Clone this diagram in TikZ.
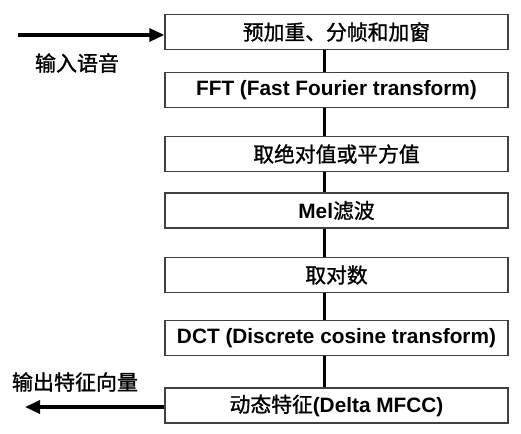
\documentclass[tikz,border=0pt]{standalone}
\usepackage{fontspec}
\setmainfont{Liberation Sans}
\newfontfamily\cjk{Noto Sans CJK SC}[BoldFont={Noto Sans CJK SC},BoldFeatures={FakeBold=1.2}]
\usetikzlibrary{arrows.meta}
\begin{document}
\begin{tikzpicture}[x=1pt,y=-1pt,
  stage/.style={draw=black!75,line width=1.4pt,minimum width=343pt,minimum height=35pt,inner sep=0pt,font=\fontsize{20.8}{22}\selectfont\bfseries},
  link/.style={line width=3pt},
  flow/.style={line width=3.2pt,-{Triangle[length=15pt,width=13pt]}},
  lab/.style={font=\fontsize{21}{23}\selectfont\cjk\bfseries}]
\useasboundingbox[fill=white] (0,0) rectangle (521,433);
\node[stage] (b1) at (336.5,32) {\cjk 预加重、分帧和加窗};
\node[stage] (b2) at (336.5,90) {FFT (Fast Fourier transform)};
\node[stage] (b3) at (336.5,154) {\cjk 取绝对值或平方值};
\node[stage] (b4) at (336.5,210.5) {Mel{\cjk 滤波}};
\node[stage] (b5) at (336.5,275) {\cjk 取对数};
\node[stage] (b6) at (336.5,338) {DCT (Discrete cosine transform)};
\node[stage] (b7) at (336.5,405.5) {{\cjk 动态特征}(Delta MFCC)};
\foreach \a/\b in {b1/b2,b2/b3,b3/b4,b4/b5,b5/b6,b6/b7}
  \draw[link] ([xshift=-12.5pt]\a.south) -- ([xshift=-12.5pt]\b.north);
\coordinate (in) at (18,35);
\coordinate (out) at (25,407);
\draw[flow] (in) -- (in -| b1.west);
\draw[flow] (out -| b7.west) -- (out);
\node[lab] (l1) at (77,63) {输入语音};
\node[lab] (l2) at (75,382) {输出特征向量};
\end{tikzpicture}
\end{document}
